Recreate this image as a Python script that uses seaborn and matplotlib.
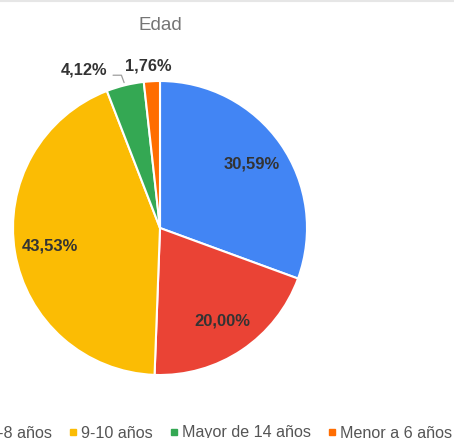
import numpy as np
import seaborn as sns
import matplotlib
matplotlib.use("Agg")
import matplotlib.pyplot as plt
from matplotlib.lines import Line2D

### DATA ###
categorias = ["11-14 años", "6-8 años", "9-10 años", "Mayor de 14 años", "Menor a 6 años"]
porcentajes = [30.59, 20.00, 43.53, 4.12, 1.76]
colores = ["#4285F4", "#EA4335", "#FBBC04", "#34A853", "#FF6D01"]
titulo = "Edad"

sns.set_theme(style="white")
plt.rcParams["font.family"] = ["Liberation Sans", "DejaVu Sans"]

W, H = 454, 438
fig = plt.figure(figsize=(W / 100, H / 100), dpi=100)
ax = fig.add_axes([0, 0, 1, 1])

centro = (160, H - 228)
radio = 147

wedges, _ = ax.pie(
    porcentajes,
    colors=colores,
    startangle=90,
    counterclock=False,
    center=centro,
    radius=radio,
    wedgeprops=dict(edgecolor="white", linewidth=1.5),
)
ax.set_xlim(0, W)
ax.set_ylim(0, H)
ax.set_aspect("equal")
ax.axis("off")

def fmt(v):
    return f"{v:.2f}%".replace(".", ",")

# offsets (pixels) of the small outside labels from the slice edge
offsets = {3: (-41, 15), 4: (-4, 15)}

for i, (w, v) in enumerate(zip(wedges, porcentajes)):
    ang = np.deg2rad((w.theta1 + w.theta2) / 2)
    if v > 10:
        x = centro[0] + radio * 0.76 * np.cos(ang)
        y = centro[1] + radio * 0.76 * np.sin(ang)
        ax.text(x, y, fmt(v), ha="center", va="center", fontsize=12,
                fontweight="bold", color="#333333")
    else:
        xe = centro[0] + radio * np.cos(ang)
        ye = centro[1] + radio * np.sin(ang)
        dx, dy = offsets[i]
        ax.annotate(fmt(v), xy=(xe, ye), xytext=(dx, dy), textcoords="offset pixels",
                    ha="center", va="center", fontsize=11.8, fontweight="bold",
                    color="#333333")
        if i == 3:
            # leader line for the green slice
            ax.annotate("", xy=(xe, ye), xytext=(-12, 10), textcoords="offset pixels",
                        arrowprops=dict(arrowstyle="-", color="#9e9e9e", lw=0.9,
                                        connectionstyle="angle,angleA=0,angleB=110,rad=0",
                                        shrinkA=0, shrinkB=2))

fig.text(160 / W, (H - 25) / H, titulo, ha="center", va="center",
         fontsize=13.5, color="#757575")

handles = [Line2D([0], [0], marker="s", linestyle="none", markersize=3.8,
                  markerfacecolor=c, markeredgecolor=c) for c in colores]
fig.legend(handles, categorias, loc="center right",
           bbox_to_anchor=(1.0 - 2 / W, (H - 433) / H), ncol=5, frameon=False,
           fontsize=11.6, labelcolor="#555555", handlelength=0.4,
           handletextpad=0.3, columnspacing=1.1, borderpad=0, borderaxespad=0)

fig.add_artist(Line2D([0, 1], [1 - 1 / H, 1 - 1 / H], color="#e6e6e6", lw=1.5))

fig.savefig("out.png", dpi=100)
